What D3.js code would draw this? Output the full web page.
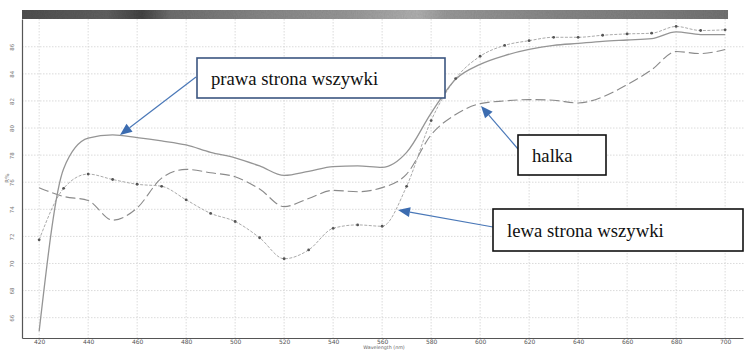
<!DOCTYPE html>
<html>
<head>
<meta charset="utf-8">
<script src="https://cdn.jsdelivr.net/npm/d3@7"></script>
<style>
  html, body { margin: 0; padding: 0; background: #fff; }
  svg { display: block; }
</style>
</head>
<body>
<svg id="chart" width="747" height="351"></svg>
<script>
// Reflectance spectra, 420–700 nm every 10 nm
const wavelengths = [420, 430, 440, 450, 460, 470, 480, 490, 500, 510, 520, 530, 540, 550, 560,
                     570, 580, 590, 600, 610, 620, 630, 640, 650, 660, 670, 680, 690, 700];

// prawa strona wszywki (solid)
const prawa = [65.0, 77.0, 79.25, 79.5, 79.3, 79.05, 78.75, 78.2, 77.8, 77.2, 76.5, 76.8, 77.15, 77.2, 77.1,
               78.2, 81.1, 83.6, 84.7, 85.35, 85.8, 86.1, 86.25, 86.4, 86.5, 86.6, 87.1, 86.9, 86.9];

// halka (long dashes)
const halka = [75.6, 74.95, 74.65, 73.2, 74.1, 76.3, 76.95, 76.7, 76.4, 75.5, 74.2, 74.8, 75.4, 75.3, 75.6,
               76.6, 79.5, 81.0, 81.8, 82.0, 82.1, 82.05, 81.85, 82.3, 83.2, 84.3, 85.65, 85.5, 85.8];

// lewa strona wszywki (fine dashes with point markers)
const lewa = [71.75, 75.55, 76.6, 76.2, 75.85, 75.7, 74.7, 73.7, 73.1, 71.9, 70.35, 71.0, 72.6, 72.85, 72.75,
              75.7, 80.55, 83.65, 85.3, 86.1, 86.45, 86.7, 86.7, 86.85, 86.95, 87.0, 87.5, 87.2, 87.25];

const xTicks = [420, 440, 460, 480, 500, 520, 540, 560, 580, 600, 620, 640, 660, 680, 700];
const yTicks = [66, 68, 70, 72, 74, 76, 78, 80, 82, 84, 86];

const annotations = [
  { text: "prawa strona wszywki", box: [197, 58, 248, 40], stroke: "#3b5580", from: [196, 77], to: [120, 135] },
  { text: "halka", box: [518, 135, 88, 40], stroke: "#111", from: [518, 149], to: [481, 106] },
  { text: "lewa strona wszywki", box: [493, 209, 250, 42], stroke: "#111", from: [493, 227], to: [398, 210] }
];

const svg = d3.select("#chart");
const plot = { left: 22, right: 743, top: 19, bottom: 338 };

const x = d3.scaleLinear().domain([413, 707.3]).range([plot.left, plot.right]);
const y = d3.scaleLinear().domain([64.5, 88.05]).range([plot.bottom, plot.top]);

// header strip above the plot
const defs = svg.append("defs");
const grad = defs.append("linearGradient").attr("id", "strip").attr("x1", 0).attr("x2", 1).attr("y1", 0).attr("y2", 0);
[[0, "#505050"], [0.06, "#5a5a5a"], [0.12, "#626262"], [0.17, "#444"], [0.21, "#707070"],
 [0.33, "#888"], [0.46, "#9a9a9a"], [0.56, "#b4b4b4"], [0.6, "#9c9c9c"], [0.75, "#8a8a8a"],
 [0.9, "#808080"], [1, "#747474"]].forEach(([o, c]) => grad.append("stop").attr("offset", o).attr("stop-color", c));

const grain = defs.append("filter").attr("id", "grain").attr("x", 0).attr("y", 0).attr("width", 1).attr("height", 1);
grain.append("feTurbulence").attr("type", "fractalNoise").attr("baseFrequency", "0.9 0.5").attr("numOctaves", 2).attr("seed", 3).attr("result", "noise");
grain.append("feColorMatrix").attr("in", "noise").attr("type", "matrix")
  .attr("values", "0.1 0.1 0.1 0 0.72  0.1 0.1 0.1 0 0.72  0.1 0.1 0.1 0 0.72  0 0 0 0 1").attr("result", "gray");
grain.append("feBlend").attr("in", "SourceGraphic").attr("in2", "gray").attr("mode", "multiply").attr("result", "mix");
grain.append("feComposite").attr("in", "mix").attr("in2", "SourceGraphic").attr("operator", "in");

svg.append("rect")
  .attr("x", plot.left).attr("y", 10).attr("width", x(700) - plot.left + 3).attr("height", plot.top - 10)
  .attr("fill", "url(#strip)").attr("filter", "url(#grain)");

// grid
const grid = svg.append("g").attr("stroke", "#d2d2d2").attr("stroke-width", 0.8).attr("stroke-dasharray", "1.5,1.5");
grid.selectAll(".gx").data(xTicks).join("line")
  .attr("x1", d => x(d)).attr("x2", d => x(d)).attr("y1", plot.top).attr("y2", plot.bottom);
grid.selectAll(".gy").data(yTicks).join("line")
  .attr("x1", plot.left).attr("x2", plot.right + 2).attr("y1", d => y(d)).attr("y2", d => y(d));

// axes
const xAxis = d3.axisBottom(x).tickValues(xTicks).tickSize(0).tickPadding(2).tickFormat(d3.format("d"));
const gx = svg.append("g").attr("transform", `translate(0,${plot.bottom})`).call(xAxis);
gx.select(".domain").attr("stroke", "#555").attr("stroke-width", 1.2);
gx.selectAll("text").attr("font-family", "DejaVu Sans, sans-serif").attr("font-size", 6).attr("fill", "#555");

const yAxis = d3.axisLeft(y).tickValues(yTicks).tickSize(0).tickPadding(0).tickFormat(d3.format("d"));
const gy = svg.append("g").attr("transform", `translate(${plot.left},0)`).call(yAxis);
gy.select(".domain").attr("stroke", "#555").attr("stroke-width", 1.2);
gy.selectAll("text")
  .attr("font-family", "DejaVu Sans, sans-serif").attr("font-size", 5.5).attr("fill", "#777")
  .attr("text-anchor", "middle").attr("dy", 0).attr("x", 0)
  .attr("transform", "translate(-10.5,0) rotate(-90)")
  .attr("dominant-baseline", "central");

svg.append("text").attr("transform", `translate(6.5,${y(76.3)}) rotate(-90)`)
  .attr("text-anchor", "middle").attr("dominant-baseline", "central")
  .attr("font-family", "DejaVu Sans, sans-serif").attr("font-size", 5.5).attr("fill", "#777").text("R%");

svg.append("text").attr("x", 384).attr("y", 349.3)
  .attr("text-anchor", "middle")
  .attr("font-family", "DejaVu Sans, sans-serif").attr("font-size", 4.8).attr("fill", "#666").text("Wavelength (nm)");

// spectra
const line = vals => d3.line().x((d, i) => x(wavelengths[i])).y(d => y(d)).curve(d3.curveMonotoneX)(vals);

svg.append("path").attr("d", line(halka)).attr("fill", "none")
  .attr("stroke", "#8a8a8a").attr("stroke-width", 1.1).attr("stroke-dasharray", "10,4");
svg.append("path").attr("d", line(lewa)).attr("fill", "none")
  .attr("stroke", "#a0a0a0").attr("stroke-width", 0.9).attr("stroke-dasharray", "3,1.5");
svg.append("path").attr("d", line(prawa)).attr("fill", "none")
  .attr("stroke", "#959595").attr("stroke-width", 1.3);
svg.append("g").selectAll("circle").data(lewa).join("circle")
  .attr("cx", (d, i) => x(wavelengths[i])).attr("cy", d => y(d)).attr("r", 1.4).attr("fill", "#555");

// callouts
const arrowColor = "#4a78b8";
annotations.forEach(a => {
  const [bx, by, bw, bh] = a.box;
  const [x0, y0] = a.from, [x1, y1] = a.to;
  const ang = Math.atan2(y1 - y0, x1 - x0);
  const len = 12, half = 5;
  const baseX = x1 - len * Math.cos(ang), baseY = y1 - len * Math.sin(ang);
  svg.append("line").attr("x1", x0).attr("y1", y0).attr("x2", baseX).attr("y2", baseY)
    .attr("stroke", arrowColor).attr("stroke-width", 1.2);
  svg.append("polygon")
    .attr("points", [
      [x1, y1],
      [baseX + half * Math.sin(ang), baseY - half * Math.cos(ang)],
      [baseX - half * Math.sin(ang), baseY + half * Math.cos(ang)]
    ].map(p => p.join(",")).join(" "))
    .attr("fill", "#3c6cb0");
  svg.append("rect").attr("x", bx).attr("y", by).attr("width", bw).attr("height", bh)
    .attr("fill", "#fff").attr("stroke", a.stroke).attr("stroke-width", 1.6);
  svg.append("text").attr("x", bx + 14).attr("y", by + bh / 2)
    .attr("dominant-baseline", "central")
    .attr("font-family", "Liberation Serif, Times New Roman, serif").attr("font-size", 18.7).attr("fill", "#111")
    .text(a.text);
});
</script>
</body>
</html>
